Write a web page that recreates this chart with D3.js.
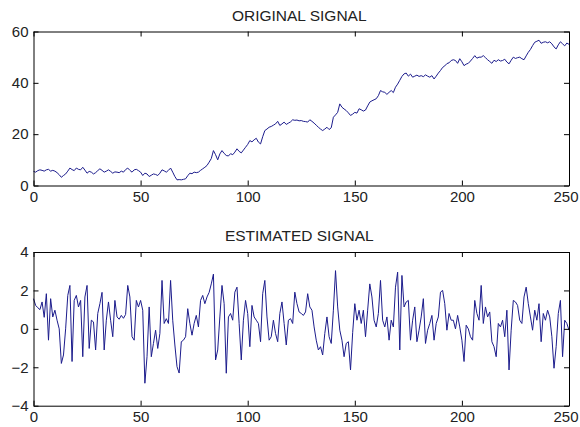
<!DOCTYPE html>
<html>
<head>
<meta charset="utf-8">
<script src="https://cdn.jsdelivr.net/npm/d3@7"></script>
<style>
  body { margin: 0; background: #fff; }
  svg { display: block; }
  text { font-family: "Liberation Sans", Arial, sans-serif; }
</style>
</head>
<body>
<div id="chart"></div>
<script>
// values, sample 0..250
const original = [
  5.5, 5.2, 5.8, 6.1, 5.9, 5.6, 6.1, 6.3, 5.6, 5.9,
  5.6, 5.0, 4.2, 3.2, 3.9, 4.5, 5.6, 6.8, 6.2, 5.8,
  6.8, 6.3, 6.1, 7.1, 6.0, 4.8, 5.5, 5.2, 4.5, 5.0,
  5.8, 6.5, 5.9, 5.2, 5.6, 6.1, 5.5, 4.8, 5.3, 5.2,
  5.0, 5.6, 5.2, 6.2, 6.8, 5.9, 5.2, 6.1, 6.3, 5.8,
  5.2, 3.9, 4.8, 4.5, 3.5, 4.0, 4.5, 4.3, 3.9, 4.8,
  6.1, 5.7, 5.2, 5.9, 6.8, 5.2, 3.5, 2.2, 2.3, 2.2,
  2.4, 2.6, 3.8, 4.8, 4.6, 5.2, 5.0, 5.2, 5.9, 6.5,
  7.1, 7.8, 9.1, 10.5, 13.6, 12.0, 10.0, 12.3, 13.6, 12.5,
  11.7, 11.5, 12.4, 12.0, 13.0, 14.3, 13.3, 12.7, 13.8, 14.9,
  16.0, 17.5, 17.0, 17.8, 18.4, 16.9, 16.2, 19.0, 21.4, 22.0,
  22.7, 23.0, 23.5, 24.0, 25.0, 23.4, 24.0, 24.7, 23.8, 24.3,
  24.8, 25.6, 25.4, 25.5, 25.2, 25.3, 25.0, 24.9, 24.7, 25.6,
  25.0, 24.3, 23.5, 22.7, 22.0, 21.4, 22.0, 22.7, 21.8, 22.5,
  26.6, 27.5, 28.5, 31.8, 30.5, 29.8, 29.2, 28.3, 27.3, 27.8,
  28.5, 28.2, 29.9, 29.5, 29.0, 29.4, 31.0, 32.5, 33.0, 33.4,
  33.8, 35.0, 37.0, 36.5, 36.3, 35.5, 36.3, 37.0, 36.2, 38.3,
  39.5, 41.0, 42.5, 43.5, 43.8, 42.6, 43.4, 42.2, 42.6, 43.0,
  42.5, 42.8, 42.4, 43.1, 42.6, 42.2, 42.8, 41.5, 42.6, 43.8,
  44.8, 46.0, 46.6, 47.5, 47.8, 48.7, 49.0, 48.7, 47.6, 49.4,
  48.2, 46.7, 47.3, 47.6, 48.5, 49.5, 50.6, 49.6, 50.0, 50.0,
  50.6, 49.8, 49.0, 48.3, 47.6, 48.8, 48.3, 49.0, 48.5, 48.7,
  49.2, 48.1, 47.4, 48.8, 50.0, 49.5, 49.8, 50.0, 49.4, 49.0,
  50.5, 51.9, 53.0, 54.5, 55.8, 56.2, 56.6, 55.4, 55.8, 56.0,
  55.6, 56.0, 55.2, 54.0, 53.2, 54.8, 56.0, 55.2, 54.4, 55.5,
  55.0
];

const estimated = [
  1.57, 1.22, 1.1, 1.0, 1.4, 0.6, 1.83, -0.59, 1.57, 0.62,
  0.97, 0.45, 0.0, -1.8, -1.36, 0.0, 1.74, 2.26, -1.7, 1.48,
  1.74, 1.14, 1.48, -1.45, 1.66, 2.26, -1.02, 0.45, 0.36, -1.1,
  0.8, 1.31, 1.9, -1.1, 0.45, 1.4, 0.45, -0.41, 1.48, 0.62,
  0.5, 0.7, 0.55, 0.75, 2.26, 1.66, -0.41, -0.59, 1.48, 1.14,
  1.48, 0.97, -2.83, -1.45, 1.14, -1.45, -0.76, -0.07, -1.02, -0.24,
  2.52, 0.28, 0.53, 0.28, 2.52, 0.45, -0.84, -1.97, -2.3, -0.67,
  -0.59, -0.41, 1.05, 0.28, -0.33, 0.28, 0.7, 0.1, 1.48, 1.74,
  1.31, 1.66, 1.9, 2.34, 2.85, -1.62, -1.1, 0.62, 2.26, 1.31,
  -2.31, 0.62, 0.8, 0.45, 1.91, 2.17, 0.28, -1.62, 0.45, 1.48,
  0.8, -0.93, 1.22, 0.62, 0.45, 0.28, -0.67, 1.83, 2.52, 0.62,
  -0.59, -0.41, 0.45, -0.24, -0.67, 0.8, 1.4, 0.28, -0.84, 0.45,
  0.53, 0.28, 1.91, 1.31, 0.88, 0.8, 0.7, 0.88, 1.83, 1.14,
  0.97, 0.1, -0.59, -1.1, -0.93, -1.36, -0.24, 0.62, -0.41, -0.76,
  0.97, 3.03, 1.14, -0.07, -0.59, -1.45, -0.76, -0.67, -2.14, -0.2,
  1.31, 0.45, 0.97, 0.28, 0.97, -0.41, 0.97, 2.34, 1.66, 0.45,
  0.1, 0.8, 2.52, 0.45, 0.1, 0.62, -0.59, 0.45, 0.1, 2.17,
  2.95, -1.1, 2.78, 1.14, 1.4, 1.48, -0.59, 0.45, 1.14, -0.67,
  -0.07, 0.62, 1.57, -0.76, -0.07, 0.28, 0.7, -0.59, 0.28, 0.62,
  1.91, 2.0, 1.31, -0.07, 0.8, 0.45, 0.45, 0.0, 0.7, 0.1,
  -0.59, -1.7, 0.19, 0.0, -0.41, -0.59, 1.48, 0.8, 0.45, 2.26,
  0.28, 1.14, 0.62, 0.88, -0.67, -0.93, -1.45, 0.28, 0.1, 0.45,
  -0.41, 0.97, -2.14, -0.07, 1.48, 1.4, 1.22, 0.45, 0.28, 1.66,
  2.17, 1.31, 0.62, -0.07, 0.97, 0.45, 1.31, -0.67, 0.8, 0.45,
  0.97, 0.62, -0.41, -2.05, -0.93, 0.8, 1.48, -1.45, 0.45, 0.28,
  -0.07
];

const xTicks = [0, 50, 100, 150, 200, 250];
const originalTicks = [0, 20, 40, 60];
const estimatedTicks = [-4, -2, 0, 2, 4];
const titles = ["ORIGINAL SIGNAL", "ESTIMATED SIGNAL"];

const width = 580;
const height = 427;
const lineColor = "#1c1c8c";

const svg = d3
  .select("#chart")
  .append("svg")
  .attr("width", width)
  .attr("height", height);

const x = d3.scaleLinear().domain([0, 250]).range([33.5, 569]);

function drawPanel(values, yDomain, yTicks, title, top, bottom) {
  const y = d3.scaleLinear().domain(yDomain).range([bottom, top]);
  const g = svg.append("g");

  const line = d3
    .line()
    .x((d, i) => x(i))
    .y((d) => y(d));

  g.append("path")
    .datum(values)
    .attr("fill", "none")
    .attr("stroke", lineColor)
    .attr("stroke-width", 1)
    .attr("d", line);

  // box axes, ticks point inward on every side
  const styleAxis = (sel) => {
    sel.select(".domain").attr("stroke", "#000");
    sel.selectAll(".tick line").attr("stroke", "#000");
    sel
      .selectAll(".tick text")
      .attr("fill", "#222")
      .style("font-family", '"Liberation Sans", Arial, sans-serif')
      .style("font-size", "15px");
  };

  const xAxis = g
    .append("g")
    .attr("transform", `translate(0,${bottom})`)
    .call(d3.axisBottom(x).tickValues(xTicks).tickSize(-5).tickSizeOuter(0).tickPadding(6).tickFormat(d3.format("d")))
    .call(styleAxis);

  // last label sits at the window edge, pull it in so it is not clipped
  xAxis
    .selectAll(".tick text")
    .filter((d) => d === 250)
    .attr("text-anchor", "end")
    .attr("dx", 9);

  g.append("g")
    .attr("transform", `translate(0,${top})`)
    .call(d3.axisTop(x).tickValues(xTicks).tickSize(-5).tickSizeOuter(0).tickFormat(""))
    .call(styleAxis);

  g.append("g")
    .attr("transform", `translate(${x(0)},0)`)
    .call(d3.axisLeft(y).tickValues(yTicks).tickSize(-5).tickSizeOuter(0).tickPadding(5).tickFormat(d3.format("d")))
    .call(styleAxis);

  g.append("g")
    .attr("transform", `translate(${x(250)},0)`)
    .call(d3.axisRight(y).tickValues(yTicks).tickSize(-5).tickSizeOuter(0).tickFormat(""))
    .call(styleAxis);

  g.append("text")
    .attr("x", (x(0) + x(250)) / 2 - 2)
    .attr("y", top - 11)
    .attr("text-anchor", "middle")
    .attr("fill", "#222")
    .style("font-size", "15.5px")
    .text(title);
}

drawPanel(original, [0, 60], originalTicks, titles[0], 31.5, 185.5);
drawPanel(estimated, [-4, 4], estimatedTicks, titles[1], 252, 405.7);
</script>
</body>
</html>
